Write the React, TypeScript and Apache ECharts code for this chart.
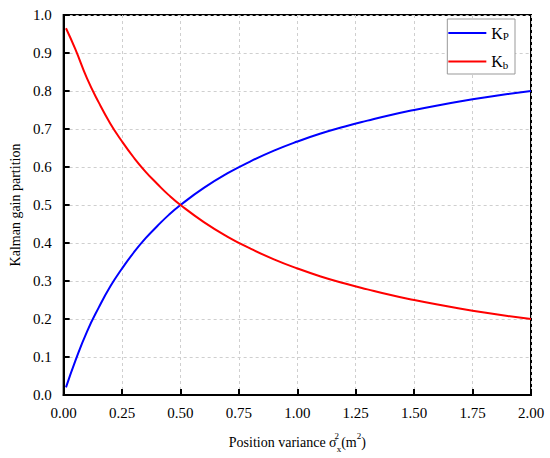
import React, { useEffect, useRef } from "react";
import * as echarts from "echarts";

const xs = [0.01, 0.05, 0.1, 0.15, 0.2, 0.25, 0.3, 0.35, 0.4, 0.45, 0.5, 0.6, 0.7, 0.8, 0.9, 1.0, 1.1, 1.2, 1.3, 1.4, 1.5, 1.6, 1.7, 1.8, 1.9, 2.0];
const kp = [0.02, 0.09, 0.167, 0.23, 0.286, 0.333, 0.375, 0.412, 0.444, 0.474, 0.5, 0.545, 0.583, 0.615, 0.643, 0.667, 0.688, 0.706, 0.722, 0.737, 0.75, 0.762, 0.773, 0.783, 0.792, 0.8];
const kb = [0.965, 0.91, 0.833, 0.77, 0.714, 0.667, 0.625, 0.588, 0.556, 0.526, 0.5, 0.455, 0.417, 0.385, 0.357, 0.333, 0.312, 0.294, 0.278, 0.263, 0.25, 0.238, 0.227, 0.217, 0.208, 0.2];
const seriesNames = ["Kp", "Kb"];

const FONT = "Liberation Serif";

export default function App() {
  const ref = useRef<HTMLDivElement>(null);
  useEffect(() => {
    document.body.style.margin = "0";
    const chart = echarts.init(ref.current!, null, { renderer: "svg" });
    const lbl = { color: "#000", fontFamily: FONT, fontSize: 15 };
    const axisCommon = {
      axisLine: { show: true, lineStyle: { color: "#000", width: 2 } },
      axisTick: { show: true, inside: true, length: 6, lineStyle: { color: "#000", width: 2 } },
      splitLine: { show: true, lineStyle: { color: "#cfcfcf", type: [3, 3], width: 1 } },
    };
    chart.setOption({
      animation: false,
      backgroundColor: "#fff",
      textStyle: { fontFamily: FONT },
      grid: {
        left: 52, right: 19, top: 15, bottom: 58,
        show: true, borderColor: "#000", borderWidth: 2, backgroundColor: "transparent",
      },
      legend: {
        orient: "vertical",
        right: 35, top: 19,
        data: seriesNames,
        icon: "rect",
        itemWidth: 38, itemHeight: 2,
        itemGap: 12,
        borderColor: "#999", borderWidth: 1, borderRadius: 0,
        padding: [6, 6, 4, 1],
        backgroundColor: "#fff",
        formatter: (n: string) => `{m|K}{s|${n === "Kp" ? "P" : "b"}}`,
        textStyle: {
          color: "#000",
          fontFamily: FONT,
          rich: {
            m: { fontFamily: FONT, fontSize: 16, color: "#000" },
            s: { fontFamily: FONT, fontSize: 11, color: "#000", verticalAlign: "bottom", padding: [6, 0, 0, 0] },
          },
        },
      },
      xAxis: {
        type: "value", min: 0, max: 2, interval: 0.25,
        ...axisCommon,
        axisLabel: {
          margin: 10,
          formatter: (v: number) => `{v|${v.toFixed(2)}}`,
          rich: { v: lbl },
        },
        name: "{t|Position variance σ}{sup|2}{sub|x}{t|(m}{sup2|2}{t|)}",
        nameLocation: "middle",
        nameGap: 36,
        nameTextStyle: {
          fontFamily: FONT, color: "#000", fontSize: 14,
          rich: {
            t: { fontFamily: FONT, fontSize: 14, color: "#000", lineHeight: 22 },
            sup: { fontFamily: FONT, fontSize: 9, color: "#000", width: 0, verticalAlign: "top", padding: [0, 0, 8, 0] },
            sub: { fontFamily: FONT, fontSize: 9, color: "#000", verticalAlign: "bottom", padding: [6, 0, 0, 0] },
            sup2: { fontFamily: FONT, fontSize: 9, color: "#000", verticalAlign: "top", padding: [0, 0, 8, 0] },
          },
        },
      },
      yAxis: {
        type: "value", min: 0, max: 1, interval: 0.1,
        ...axisCommon,
        axisLabel: {
          margin: 12,
          formatter: (v: number) => `{v|${v.toFixed(1)}}`,
          rich: { v: lbl },
        },
        name: "{t|Kalman gain partition}",
        nameLocation: "middle",
        nameGap: 33,
        nameTextStyle: { fontFamily: FONT, color: "#000", fontSize: 14, rich: { t: { fontFamily: FONT, fontSize: 14, color: "#000" } } },
      },
      series: [
        {
          name: "Kp", type: "line", smooth: true, showSymbol: false,
          data: xs.map((x, i) => [x, kp[i]]),
          lineStyle: { color: "#0000ff", width: 2 }, itemStyle: { color: "#0000ff" },
        },
        {
          name: "Kb", type: "line", smooth: true, showSymbol: false,
          data: xs.map((x, i) => [x, kb[i]]),
          lineStyle: { color: "#ff0000", width: 2 }, itemStyle: { color: "#ff0000" },
        },
      ],
    });
    return () => chart.dispose();
  }, []);
  return <div ref={ref} style={{ width: 550, height: 458 }} />;
}
